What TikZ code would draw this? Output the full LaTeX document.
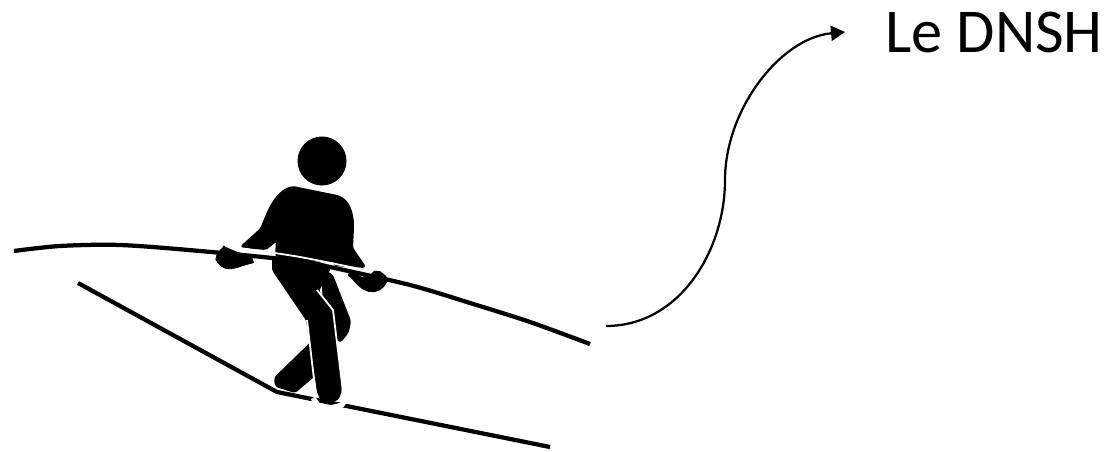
\documentclass[tikz,border=0pt]{standalone}
\usepackage{fontspec}
\setmainfont{Carlito}
\usetikzlibrary{arrows.meta}
\tikzset{
  every picture/.style={x=0.02cm, y=-0.02cm},
  limb/.style={fill=black, draw=black, line width=0.04cm, rounded corners=0.05cm, line join=round},
  wire/.style={draw=black, line width=0.085cm},
  gap/.style={draw=white, line width=0.036cm, line join=round},
  link/.style={-{Triangle[length=0.28cm, width=0.3cm]}, draw=black, line width=0.045cm},
  title/.style={font=\fontsize{35.5}{40}\selectfont, anchor=west, inner xsep=0.8cm, inner ysep=0pt},
}
\begin{document}
\begin{tikzpicture}
  \useasboundingbox (0,0) rectangle (1112,452);
  \node[title] (dnsh) at (845,32) {Le DNSH};
  \coordinate (start) at (606,326);
  \draw[link] (start) .. controls (680,326) and (725,250) .. (725,180)
    .. controls (725,110) and (780,38) .. (dnsh.west);
  \draw[wire, line join=round] (78,283) -- (277,392) -- (550,447);
  \path[limb] (316,338) -- (275,378) -- (276,386) -- (295,392) -- (316,374) -- cycle;
  \path[limb] (322,270) -- (332,275) -- (350,321) -- (348,332) -- (340,342) -- (325,320) -- cycle;
  \draw[gap, line width=0.1cm] (313,398) -- (318,405) -- (330,408) -- (342,405) -- (348,396);
  \path[limb] (273,258) -- (273,270) -- (307,320) -- (318,392) -- (321,399) -- (329,402) -- (338,399) -- (341,390) -- (334,313) -- (318,291) -- (330,268) -- cycle;
  \draw[gap] (317,290) -- (333,310) -- (343,392);
  \draw[gap] (307,320) -- (316,396);
  \fill[black] (322,161) circle (24.5);
  \path[limb] (241,247) -- (261,229) .. controls (268,212) and (275,192) .. (293,187) -- (337,196) .. controls (348,200) and (353,212) .. (353,228) -- (352,248) -- (365,267) -- (334,265) -- (336,252) -- (333,262) -- (276,256) -- (277,240) -- (266,249) -- cycle;
  \path[limb] plot[smooth cycle] coordinates {(217,257) (224,249) (235,252) (252,260) (240,266) (228,268) (220,264)};
  \path[limb] plot[smooth cycle] coordinates {(350,273) (365,278) (377,272) (386,279) (381,288) (371,291) (360,286)};
  \draw[wire] plot[smooth] coordinates {(14,251) (60,246) (120,245) (200,251) (300,261) (330,267) (410,285) (470,303) (530,322) (590,344)};
  \draw[gap] plot[smooth] coordinates {(240,248) (300,257) (365,270)};
\end{tikzpicture}
\end{document}
